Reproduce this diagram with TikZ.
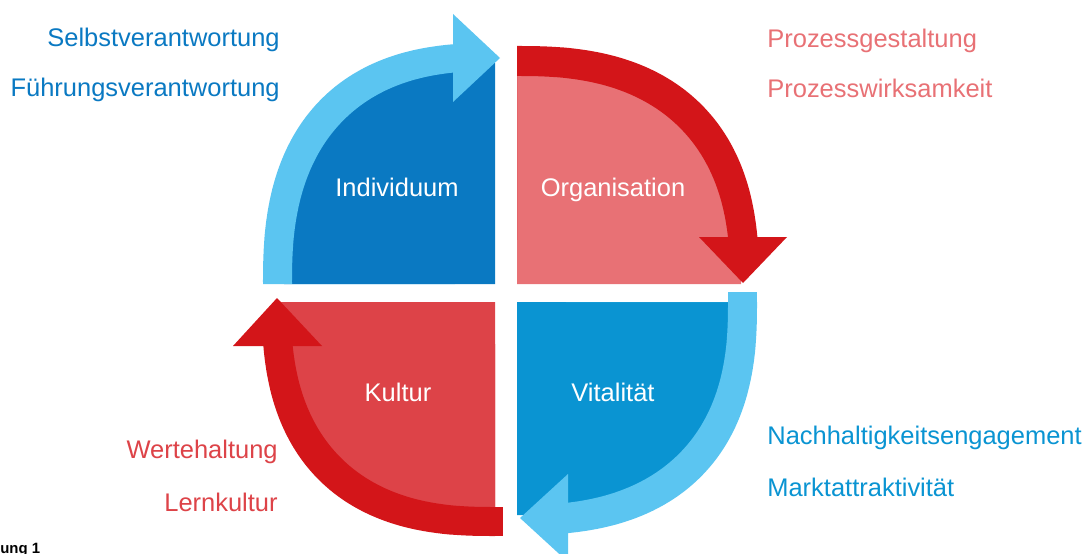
\documentclass[tikz,border=0pt]{standalone}
\usepackage{fontspec}
\setmainfont{Liberation Sans}
\definecolor{indblue}{HTML}{0A79C2}
\definecolor{vitblue}{HTML}{0A94D2}
\definecolor{skyband}{HTML}{5BC5F1}
\definecolor{orgred}{HTML}{E87175}
\definecolor{kulred}{HTML}{DD4348}
\definecolor{bandred}{HTML}{D31519}

% quarter of a superellipse (exponent 2.5): corner x, corner y, signed x radius, signed y radius
\tikzset{
  sq/.style n args={4}{insert path={
    ({#1},{#2}) -- ({#1+(#3)},{#2})
    -- plot[domain=0.3:89.7, samples=90]
       ({#1+(#3)*pow(cos(\x),0.8)},{#2+(#4)*pow(sin(\x),0.8)})
    -- ({#1},{#2+(#4)}) -- cycle}},
}

\begin{document}
\begin{tikzpicture}[x=0.02cm,y=-0.02cm,
  txt/.style={font=\fontsize{14.5}{17}\selectfont, inner sep=0pt},
  quadtxt/.style={txt, text=white, anchor=base},
  lefttxt/.style={txt, anchor=base east},
  righttxt/.style={txt, anchor=base west},
  ring/.style={even odd rule}]
\useasboundingbox (0,0) rectangle (1085,554);
\clip (0,0) rectangle (1085,554);

% ---- quadrant fills ----
\fill[indblue, sq={495}{284}{-211}{-221}];
\fill[orgred,  sq={517}{284}{224}{-216}];
\fill[kulred,  sq={495}{302}{-214}{213}];
\fill[vitblue, sq={517}{302}{219}{213}];

% ---- curved arrows ----
% top left, light blue, pointing right
\begin{scope}
  \clip (0,0) rectangle (455,285);
  \fill[skyband, ring, sq={495}{284}{-232}{-241}, sq={495}{284}{-203}{-213}];
\end{scope}
\fill[skyband] (453,14) -- (500,58) -- (453,102) -- cycle;

% top right, red, pointing down
\begin{scope}
  \clip (516,0) rectangle (1085,239);
  \fill[bandred, ring, sq={517}{284}{242}{-238}, sq={517}{284}{213}{-208}];
\end{scope}
\fill[bandred] (699,237) -- (743,283) -- (787,237) -- cycle;

% bottom right, light blue, pointing left
\begin{scope}
  \clip (566,302) rectangle (1085,554);
  \fill[skyband, ring, sq={517}{302}{240}{233}, sq={517}{302}{211}{203}];
\end{scope}
\fill[skyband] (728,292) rectangle (757,303);
\fill[skyband] (568,474) -- (520,518) -- (568,562) -- cycle;

% bottom left, red, pointing up
\begin{scope}
  \clip (0,344) rectangle (496,554);
  \fill[bandred, ring, sq={495}{302}{-233}{234}, sq={495}{302}{-204}{205}];
\end{scope}
\fill[bandred] (494,507) rectangle (503,536);
\fill[bandred] (233,346) -- (277,298) -- (322,346) -- cycle;

% ---- quadrant titles ----
\node[quadtxt] (ind) at (397,196.5) {Individuum};
\node[quadtxt] (org) at (613,196.5) {Organisation};
\node[quadtxt] (kul) at (398,401) {Kultur};
\node[quadtxt] (vit) at (613,401) {Vitalität};

% ---- side labels ----
\node[lefttxt, text=indblue] (selbst) at (280,47) {Selbstverantwortung};
\node[lefttxt, text=indblue] (fuehr) at (280,97) {Führungsverantwortung};
\node[righttxt, text=orgred] (pgest) at (767,48) {Prozessgestaltung};
\node[righttxt, text=orgred] (pwirk) at (767,98) {Prozesswirksamkeit};
\node[lefttxt, text=kulred] (werte) at (278,458) {Wertehaltung};
\node[lefttxt, text=kulred] (lern) at (278,511) {Lernkultur};
\node[righttxt, text=vitblue] (nach) at (767,444) {Nachhaltigkeitsengagement};
\node[righttxt, text=vitblue] (markt) at (767,496) {Marktattraktivität};

% ---- caption fragment ----
\node[font=\bfseries\fontsize{8.5}{10}\selectfont, anchor=base west, inner sep=0pt] (cap) at (0,553) {ung 1};
\end{tikzpicture}
\end{document}
